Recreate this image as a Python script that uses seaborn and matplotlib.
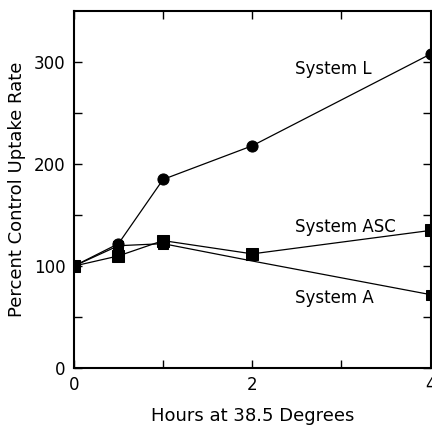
import pandas as pd
import seaborn as sns
import matplotlib.pyplot as plt

hours = [0, 0.5, 1, 2, 4]
system_l = [100, 122, 185, 218, 308]
system_asc = [100, 110, 125, 112, 135]
system_a = [100, 120, 122, 105, 72]

sns.set_style("ticks")
plt.rcParams["font.family"] = ["DejaVu Sans"]
plt.rcParams["text.color"] = "black"
plt.rcParams["axes.labelcolor"] = "black"

fig = plt.figure(figsize=(4.32, 4.29), dpi=100)
ax = fig.add_axes([0.171, 0.142, 0.826, 0.832])

df_l = pd.DataFrame({"x": hours, "y": system_l})
df_asc = pd.DataFrame({"x": hours, "y": system_asc})
df_a = pd.DataFrame({"x": hours, "y": system_a})

sns.lineplot(data=df_l, x="x", y="y", ax=ax, color="black", lw=0.9,
             marker="o", markersize=8, markeredgecolor="black")
sns.lineplot(data=df_asc, x="x", y="y", ax=ax, color="black", lw=0.9,
             marker="s", markersize=8, markeredgecolor="black")
sns.lineplot(data=df_a, x="x", y="y", ax=ax, color="black", lw=0.9,
             marker="s", markersize=7, markeredgecolor="black",
             markevery=[0, 1, 2, 4])

ax.text(2.48, 293, "System L", fontsize=12, va="center")
ax.text(2.48, 138, "System ASC", fontsize=12, va="center")
ax.text(2.48, 69, "System A", fontsize=12, va="center")

ax.set_xlim(0, 4)
ax.set_ylim(0, 350)
ax.set_xticks([0, 1, 2, 3, 4])
ax.set_xticklabels(["0", "", "2", "", "4"])
ax.set_yticks([0, 50, 100, 150, 200, 250, 300])
ax.set_yticklabels(["0", "", "100", "", "200", "", "300"])
ax.tick_params(direction="in", length=6, width=1, top=True, right=True,
               labelsize=12, pad=6, colors="black")
for s in ax.spines.values():
    s.set_linewidth(1.5)
    s.set_color("black")

ax.set_xlabel("Hours at 38.5 Degrees", fontsize=13, labelpad=9)
ax.set_ylabel("Percent Control Uptake Rate", fontsize=13, labelpad=6)

fig.savefig("out.png", dpi=100)
